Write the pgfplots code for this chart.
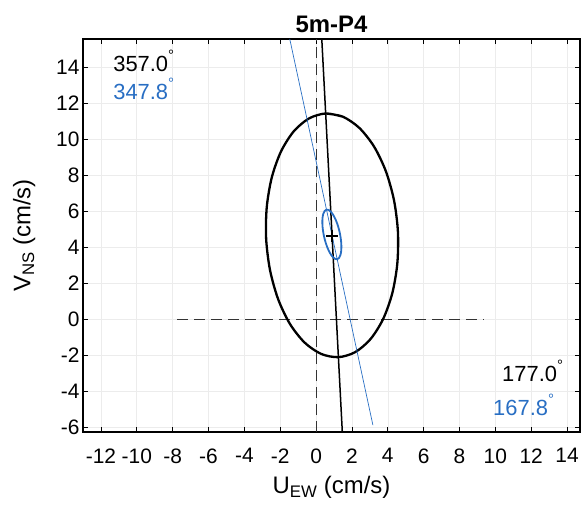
\documentclass[border=0pt]{standalone}
\usepackage{pgfplots}
\pgfplotsset{compat=1.18}
\usepackage{fontspec}
\setmainfont{Liberation Sans}
\definecolor{mblue}{RGB}{40,110,195}
\newcommand{\degsym}{\raisebox{0.5em}{\fontsize{15}{15}\selectfont\textdegree}}
\begin{document}
\begin{tikzpicture}
\begin{axis}[
  name=ax,
  scale only axis,
  width=497bp, height=393bp,
  xmin=-13.0, xmax=14.72, ymin=-6.28, ymax=15.56,
  xtick={-12,-10,...,14}, ytick={-6,-4,...,14},
  tick align=inside,
  major tick length=5bp,
  tick style={black, line width=0.8bp},
  axis line style={black, line width=1.2bp},
  grid=major,
  major grid style={gray!15, line width=0.6bp},
  /pgf/number format/assume math mode=true,
  ticklabel style={font=\fontsize{21}{21}\selectfont},
  xticklabel style={yshift=-13bp},
  title={\bfseries 5m-P4},
  title style={font=\fontsize{24}{24}\selectfont, yshift=-3bp},
  xlabel={U\textsubscript{EW} (cm/s)},
  ylabel={V\textsubscript{NS} (cm/s)},
  label style={font=\fontsize{24}{24}\selectfont},
  xlabel style={yshift=-6bp},
  ylabel style={yshift=14bp},
]
% dashed reference lines
\addplot[black!80, line width=0.9bp, dash pattern=on 11bp off 6bp] coordinates {(-7.75,0) (9.37,0)};
\addplot[black!80, line width=0.9bp, dash pattern=on 11bp off 6bp] coordinates {(0,-6.28) (0,15.56)};
% black ellipse
\addplot[black, line width=2.3bp, smooth] coordinates {
(0.535,11.421) (1.498,11.240) (2.420,10.610) (3.238,9.574) (3.895,8.202) (4.348,6.588)
(4.565,4.843) (4.531,3.084) (4.250,1.431) (3.740,-0.001) (3.035,-1.117) (2.184,-1.840)
(1.245,-2.121) (0.282,-1.940) (-0.640,-1.310) (-1.458,-0.274) (-2.115,1.098) (-2.568,2.712)
(-2.785,4.457) (-2.751,6.216) (-2.470,7.869) (-1.960,9.301) (-1.255,10.417) (-0.404,11.140)
(0.535,11.421) (1.498,11.240)};
% black major axis line
\addplot[black, line width=1.5bp] coordinates {(0.318,15.56) (1.463,-6.28)};
% blue ellipse
\addplot[mblue, line width=1.8bp, smooth] coordinates {
(0.582,6.078) (0.706,6.056) (0.842,5.941) (0.980,5.742) (1.112,5.472) (1.228,5.149)
(1.320,4.795) (1.382,4.435) (1.410,4.093) (1.402,3.793) (1.358,3.554) (1.282,3.394)
(1.178,3.322) (1.054,3.344) (0.918,3.459) (0.780,3.658) (0.648,3.928) (0.532,4.251)
(0.440,4.605) (0.378,4.965) (0.350,5.307) (0.358,5.607) (0.402,5.846) (0.478,6.006)
(0.582,6.078) (0.706,6.056)};
% blue major axis line
\addplot[mblue, line width=0.7bp] coordinates {(-1.468,15.56) (3.17,-5.9)};
% centre (+)
\addplot[black, line width=2.6bp] coordinates {(0.55,4.62) (1.21,4.62)};
\addplot[black, line width=2.6bp] coordinates {(0.88,4.29) (0.88,4.95)};
% annotations
\node[anchor=west, inner sep=0pt, font=\fontsize{22}{22}\selectfont] at (axis cs:-11.32,14.33) {357.0\degsym};
\node[anchor=west, inner sep=0pt, font=\fontsize{22}{22}\selectfont, text=mblue] at (axis cs:-11.32,12.78) {347.8\degsym};
\node[anchor=west, inner sep=0pt, font=\fontsize{22}{22}\selectfont] at (axis cs:10.37,-2.89) {177.0\degsym};
\node[anchor=west, inner sep=0pt, font=\fontsize{22}{22}\selectfont, text=mblue] at (axis cs:9.87,-4.78) {167.8\degsym};
\end{axis}
\pgfresetboundingbox
\path[use as bounding box] ([xshift=-83bp,yshift=-79bp]ax.south west) rectangle ([xshift=2bp,yshift=39bp]ax.north east);
\end{tikzpicture}
\end{document}
